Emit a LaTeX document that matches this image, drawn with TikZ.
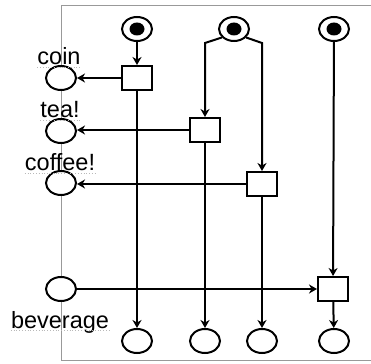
\documentclass[tikz,border=0pt]{standalone}
\usepackage{fontspec}
\setmainfont{Liberation Sans}
\usetikzlibrary{arrows.meta,shapes.geometric}
\begin{document}
\begin{tikzpicture}[x=1pt,y=-1pt,
  place/.style={draw, ellipse, line width=2pt, minimum width=30pt, minimum height=24pt, inner sep=0pt, fill=white},
  token/.style={ellipse, fill=black, minimum width=15pt, minimum height=13pt, inner sep=0pt},
  trans/.style={draw, rectangle, line width=2pt, minimum width=30pt, minimum height=24pt, inner sep=0pt, fill=white},
  arc/.style={line width=2pt, -{Stealth[length=8pt,width=9pt,inset=2.5pt]}},
  lbl/.style={font=\fontsize{23.5}{26}\selectfont, inner sep=0pt, anchor=base},
  uline/.style={gray!55, dotted, line width=0.8pt},
  frame/.style={gray!80, line width=1pt}]
\useasboundingbox (0,0) rectangle (371,363);
% frame
\draw[frame] (371,6) -- (61,6) -- (61,360) -- (371,360);
% top marked places
\node[place] (p1) at (137,29) {};
\node[token] (p1t) at (137,29) {};
\node[place] (p2) at (234,29) {};
\node[token] (p2t) at (234,29) {};
\node[place] (p3) at (334,29) {};
\node[token] (p3t) at (334,29) {};
% transitions
\node[trans] (t1) at (137,78) {};
\node[trans] (t2) at (205,130) {};
\node[trans] (t3) at (262,184) {};
\node[trans] (t4) at (333,289) {};
% interface places
\node[place] (coin) at (61,78) {};
\node[place] (tea) at (61,131) {};
\node[place] (coffee) at (61,183) {};
\node[place] (bev) at (61,289) {};
% bottom places
\node[place] (b1) at (137,341) {};
\node[place] (b2) at (205,341) {};
\node[place] (b3) at (262,341) {};
\node[place] (b4) at (334,341) {};
% labels
\node[lbl] (lcoin) at (59,65) {coin};
\node[lbl] (ltea) at (60,118) {tea!};
\node[lbl] (lcoffee) at (60,171) {coffee!};
\node[lbl] (lbev) at (60,328) {beverage};
\foreach \n in {lcoin,ltea,lcoffee,lbev}
  \draw[uline] ([yshift=-2pt]\n.base west) -- ([yshift=-2pt]\n.base east);
% bends
\coordinate (k2) at (205,43);
\coordinate (k3) at (262,43);
% arcs
\draw[arc] (p1) -- (t1);
\draw[arc] (p2.215) -- (k2) -- (t2.north);
\draw[arc] (p2.325) -- (k3) -- (t3.north);
\draw[arc] (p3) -- (t4);
\draw[arc] (t1) -- (coin);
\draw[arc] (t2.west) -- (tea.east |- t2.west);
\draw[arc] (t3.west) -- (coffee.east |- t3.west);
\draw[arc] (bev) -- (t4);
\draw[arc] (t1) -- (b1);
\draw[arc] (t2) -- (b2);
\draw[arc] (t3) -- (b3);
\draw[arc] (t4) -- (b4);
\end{tikzpicture}
\end{document}
